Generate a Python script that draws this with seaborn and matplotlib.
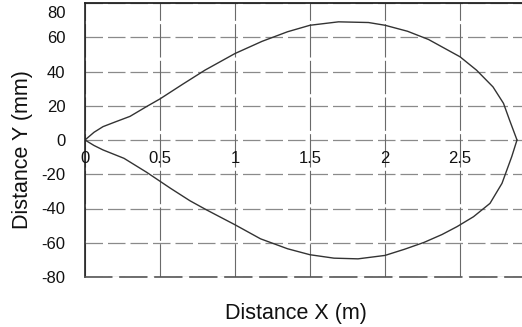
import numpy as np
import pandas as pd
import matplotlib
matplotlib.use("Agg")
import matplotlib.pyplot as plt
import matplotlib.transforms as mtransforms
import seaborn as sns

# upper and lower edges of the profile (x in m, y in mm)
upper_x = [0, 0.06, 0.12, 0.2, 0.3, 0.41, 0.5, 0.65, 0.8, 1.0, 1.18, 1.35, 1.5, 1.69, 1.89, 2.0, 2.15, 2.29, 2.5, 2.61, 2.72, 2.79, 2.83, 2.88]
upper_y = [0, 4.5, 7.8, 10.5, 13.8, 19.5, 24, 32.5, 40.8, 50.5, 57.6, 63.2, 67, 69, 68.6, 67, 63.5, 58.7, 48.6, 40.8, 31, 21.4, 11.7, 0]
lower_x = [0, 0.06, 0.12, 0.26, 0.41, 0.57, 0.7, 0.81, 1.0, 1.17, 1.35, 1.5, 1.66, 1.82, 2.0, 2.13, 2.26, 2.38, 2.48, 2.59, 2.70, 2.78, 2.845, 2.88]
lower_y = [0, -3.2, -5.8, -10.7, -18.8, -28.2, -35.5, -40.8, -49.5, -57.7, -63.5, -67, -69, -69.4, -67.4, -63.8, -59.8, -55.2, -50.6, -44.8, -37, -25.3, -9.7, 0]

x_ticks = [0, 0.5, 1, 1.5, 2, 2.5, 3]
x_tick_labels = ["0", "0.5", "1", "1.5", "2", "2.5", "3"]
y_ticks = [80, 60, 40, 20, 0, -20, -40, -60, -80]

sns.set_style("white")
plt.rcParams["font.family"] = ["Liberation Sans", "DejaVu Sans"]

fig = plt.figure(figsize=(5.22, 3.27), dpi=100)
ax = fig.add_axes([85 / 522, 50 / 327, 450 / 522, 274 / 327])

df_up = pd.DataFrame({"x": upper_x, "y": upper_y})
df_lo = pd.DataFrame({"x": lower_x, "y": lower_y})
sns.lineplot(data=df_up, x="x", y="y", sort=False, estimator=None,
             color="#333333", linewidth=1.0, ax=ax)
sns.lineplot(data=df_lo, x="x", y="y", sort=False, estimator=None,
             color="#333333", linewidth=1.0, ax=ax)

ax.set_xlim(0, 3)
ax.set_ylim(-80, 80)

# grid
for yv in y_ticks:
    ax.axhline(yv, color="#8a8a8a", linewidth=0.9, linestyle=(0, (14, 4)), zorder=0)
for xv in x_ticks:
    ax.axvline(xv, color="#6a6a6a", linewidth=0.8, linestyle=(0, (30, 3)), zorder=0)

ax.spines["right"].set_visible(False)
ax.spines["top"].set_color("#222222")
ax.spines["top"].set_linewidth(1.3)
ax.spines["left"].set_color("#222222")
ax.spines["left"].set_linewidth(1.2)
ax.spines["bottom"].set_color("#555555")
ax.spines["bottom"].set_linewidth(1.2)
ax.spines["bottom"].set_linestyle((0, (16, 5)))

ax.set_yticks(y_ticks)
ax.set_yticklabels([str(v) for v in y_ticks])
ax.tick_params(axis="y", length=0, pad=14, labelsize=12, labelcolor="#111111")
# top label sits a little lower than its gridline
top_lab = ax.get_yticklabels()[0]
top_lab.set_transform(top_lab.get_transform() +
                      mtransforms.ScaledTranslation(0, -9 / 100, fig.dpi_scale_trans))
ax.set_xticks([])

# x tick labels sit inside the plot, just under the zero line
for xv, lab in zip(x_ticks, x_tick_labels):
    ax.annotate(lab, (xv, 0), xytext=(0, -8), textcoords="offset points",
                ha="center", va="top", fontsize=12, color="#111111")

ax.set_xlabel("")
ax.set_ylabel("")
fig.text(23 / 522, 1 - 150 / 327, "Distance Y (mm)", rotation=90,
         ha="center", va="center", fontsize=15.5, color="#111111")
fig.text(296 / 522, 1 - 313 / 327, "Distance X (m)",
         ha="center", va="center", fontsize=15.5, color="#111111")

fig.savefig("out.png", dpi=100)
